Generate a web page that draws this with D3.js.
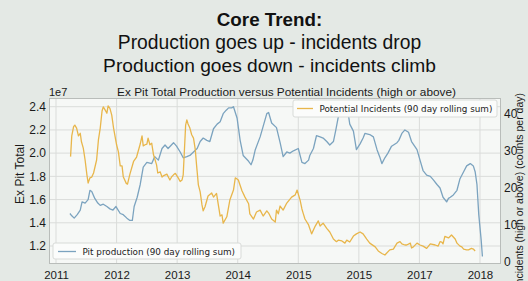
<!DOCTYPE html>
<html><head><meta charset="utf-8">
<script src="https://cdn.jsdelivr.net/npm/d3@7"></script>
<style>body{margin:0;background:#e4e9e5;}svg{display:block}</style>
</head><body><svg id="c" width="528" height="281"></svg>
<script>
const headline = ["Core Trend:", "Production goes up - incidents drop", "Production goes down - incidents climb"];
const chartTitle = "Ex Pit Total Production versus Potential Incidents (high or above)";
const leftLabel = "Ex Pit Total";
const rightLabel = "Potential incidents (high or above) (counts per day)";
const offsetLabel = "1e7";
const prodLegend = "Pit production (90 day rolling sum)";
const incLegend = "Potential Incidents (90 day rolling sum)";
const xTickValues = [2011, 2012, 2013, 2014, 2015, 2016, 2017, 2018];
const xTickLabels = ["2011", "2012", "2013", "2014", "2015", "2015", "2017", "2018"];
const leftTicks = [1.2, 1.4, 1.6, 1.8, 2.0, 2.2, 2.4];
const rightTicks = [0, 10, 20, 30, 40];

// Pit production, 90 day rolling sum (units of 1e7)
const prodYears = [2011.23,2011.26,2011.30,2011.35,2011.40,2011.43,2011.48,2011.53,2011.56,2011.59,2011.64,2011.69,2011.73,2011.78,2011.84,2011.89,2011.94,2011.99,
2012.06,2012.11,2012.17,2012.22,2012.26,2012.29,2012.34,2012.39,2012.44,2012.50,2012.58,2012.63,2012.69,2012.75,2012.80,2012.85,2012.94,2012.99,
2013.05,2013.10,2013.16,2013.21,2013.27,2013.33,2013.38,2013.43,2013.49,2013.54,2013.60,2013.66,2013.71,2013.76,2013.81,2013.85,2013.90,2013.93,2013.96,2013.99,
2014.04,2014.09,2014.18,2014.22,2014.25,2014.29,2014.37,2014.42,2014.48,2014.51,2014.56,2014.64,2014.70,2014.75,2014.81,2014.86,2014.92,2015.00,
2015.06,2015.11,2015.17,2015.19,2015.25,2015.30,2015.36,2015.41,2015.47,2015.52,2015.58,2015.62,2015.66,2015.72,2015.77,2015.83,2015.85,2015.91,2015.96,
2016.02,2016.07,2016.10,2016.18,2016.24,2016.30,2016.35,2016.38,2016.43,2016.48,2016.54,2016.63,2016.66,2016.71,2016.76,2016.82,2016.87,2016.96,
2017.01,2017.06,2017.12,2017.18,2017.23,2017.29,2017.34,2017.39,2017.45,2017.48,2017.51,2017.56,2017.62,2017.67,2017.73,2017.78,2017.84,2017.89,2017.92,2017.95,2017.98,2018.02,2018.04];
const prodValues = [1.48,1.46,1.44,1.47,1.51,1.58,1.57,1.60,1.68,1.67,1.61,1.57,1.55,1.56,1.54,1.52,1.51,1.54,
1.48,1.47,1.44,1.42,1.42,1.54,1.62,1.73,1.88,1.92,1.91,1.97,1.94,2.04,2.07,2.04,2.09,2.06,
2.01,1.96,1.97,1.98,2.01,2.04,2.10,2.13,2.11,2.10,2.21,2.25,2.27,2.34,2.37,2.39,2.39,2.40,2.35,2.30,
2.11,1.98,1.93,1.90,1.94,2.03,2.14,2.23,2.34,2.35,2.26,2.22,2.09,1.97,2.01,2.00,2.02,2.04,
1.92,1.91,1.94,1.98,2.04,2.15,2.14,2.13,2.10,2.07,2.10,2.20,2.31,2.39,2.35,2.32,2.25,2.19,2.03,
2.08,2.13,2.17,2.16,2.14,2.03,1.96,1.91,1.96,2.00,2.06,2.09,2.11,2.17,2.20,2.18,2.10,2.03,
1.94,1.85,1.81,1.80,1.77,1.73,1.70,1.62,1.58,1.61,1.62,1.64,1.68,1.78,1.84,1.89,1.91,1.89,1.84,1.73,1.47,1.25,1.11];

// Potential incidents, 90 day rolling sum (counts)
const incYears = [2011.24,2011.26,2011.29,2011.31,2011.34,2011.37,2011.40,2011.42,2011.45,2011.48,2011.51,2011.53,2011.56,2011.59,2011.62,2011.67,2011.70,2011.73,2011.76,2011.78,2011.81,2011.84,2011.86,2011.89,2011.92,2011.95,
2012.00,2012.03,2012.06,2012.09,2012.11,2012.16,2012.18,2012.22,2012.28,2012.33,2012.39,2012.42,2012.44,2012.47,2012.50,2012.52,2012.55,2012.58,2012.61,2012.66,2012.68,2012.72,2012.75,2012.77,2012.83,2012.88,2012.91,2012.94,2012.97,
2013.02,2013.05,2013.08,2013.10,2013.12,2013.14,2013.16,2013.18,2013.21,2013.24,2013.27,2013.30,2013.32,2013.35,2013.38,2013.41,2013.43,2013.46,2013.51,2013.57,2013.60,2013.63,2013.65,2013.68,2013.71,2013.74,2013.76,2013.82,2013.87,2013.93,2013.96,
2014.01,2014.07,2014.12,2014.18,2014.20,2014.26,2014.31,2014.37,2014.42,2014.48,2014.51,2014.56,2014.62,2014.64,2014.67,2014.70,2014.75,2014.81,2014.89,2014.95,2014.98,
2015.03,2015.06,2015.08,2015.11,2015.17,2015.22,2015.28,2015.33,2015.36,2015.41,2015.47,2015.52,2015.58,2015.63,2015.66,2015.72,2015.77,2015.80,2015.85,2015.91,2015.96,
2016.02,2016.07,2016.13,2016.18,2016.27,2016.32,2016.38,2016.43,2016.51,2016.57,2016.63,2016.68,2016.71,2016.76,2016.79,2016.85,2016.87,2016.90,2016.96,
2017.01,2017.06,2017.12,2017.18,2017.26,2017.31,2017.34,2017.37,2017.39,2017.42,2017.48,2017.53,2017.59,2017.62,2017.67,2017.70,2017.73,2017.78,2017.81,2017.86,2017.89,2017.92];
const incValues = [28.3,33.9,36.4,36.8,36.0,33.9,34.6,32.3,30.6,27.4,23.4,21.2,22.6,22.8,23.9,27.4,32.8,36.0,40.6,41.7,40.9,40.0,42.0,41.3,39.5,36.0,
31.5,29.6,25.8,25.8,22.9,21.1,20.9,23.6,27.0,28.2,31.7,33.9,31.2,31.5,31.7,33.3,31.5,31.9,28.8,26.1,23.9,24.2,22.8,23.1,23.6,22.0,22.9,23.4,23.8,
22.5,21.6,22.0,23.4,30.1,36.8,38.2,37.1,36.0,34.2,33.3,30.1,26.1,20.7,18.8,15.3,13.7,14.8,17.7,18.5,17.4,18.0,18.4,15.3,12.3,12.6,10.4,12.1,16.6,19.3,22.6,
22.0,19.1,17.4,15.6,12.9,11.5,13.4,13.9,12.3,13.7,13.1,11.5,10.7,13.9,12.9,15.0,13.9,15.8,17.4,18.0,19.3,
16.6,14.2,13.1,11.5,9.9,7.5,9.6,11.0,9.6,10.4,9.0,8.0,6.1,5.4,5.8,5.6,5.0,5.8,5.3,6.9,7.5,
8.0,7.5,6.1,5.0,4.0,2.9,2.2,1.8,3.2,3.4,5.0,5.4,4.8,4.5,4.5,5.0,3.7,4.0,5.0,
4.5,4.2,3.6,4.8,4.5,4.2,5.4,5.3,4.8,6.8,6.4,7.2,6.1,5.0,4.2,4.0,3.4,3.2,3.2,3.6,3.4,2.9];

const svg = d3.select("#c");
const W = 528, H = 281;
const plot = {left: 49, right: 501, top: 98, bottom: 264};

const x = d3.scaleLinear().domain([2010.884, 2018.347]).range([plot.left, plot.right]);
const yL = d3.scaleLinear().domain([1.045, 2.475]).range([plot.bottom, plot.top]);
const yR = d3.scaleLinear().domain([-0.62, 44.1]).range([plot.bottom, plot.top]);

svg.append("rect").attr("width", W).attr("height", H).attr("fill", "#e4e9e5");

// headline
const hl = svg.append("g").attr("font-family", "'Liberation Sans', Arial, sans-serif").attr("fill", "#111").attr("text-anchor", "middle");
hl.append("text").attr("x", 269.5).attr("y", 26).attr("font-size", 18.8).attr("font-weight", "bold").text(headline[0]);
hl.append("text").attr("x", 269.5).attr("y", 49).attr("font-size", 19.3).text(headline[1]);
hl.append("text").attr("x", 269.5).attr("y", 72).attr("font-size", 19.2).text(headline[2]);

// plot background
svg.append("rect").attr("x", plot.left).attr("y", plot.top)
  .attr("width", plot.right - plot.left).attr("height", plot.bottom - plot.top)
  .attr("fill", "#f6f8f6");

// grid
const grid = svg.append("g").attr("stroke", "#dadcda").attr("stroke-width", 1);
grid.selectAll("line.v").data(xTickValues).join("line")
  .attr("x1", d => x(d)).attr("x2", d => x(d)).attr("y1", plot.top).attr("y2", plot.bottom);
grid.selectAll("line.h").data(leftTicks).join("line")
  .attr("y1", d => yL(d)).attr("y2", d => yL(d)).attr("x1", plot.left).attr("x2", plot.right);

// frame
svg.append("rect").attr("x", plot.left + 0.5).attr("y", plot.top + 0.5)
  .attr("width", plot.right - plot.left - 1).attr("height", plot.bottom - plot.top - 1)
  .attr("fill", "none").attr("stroke", "#b9bdba");

// axes
const font = "'Liberation Sans', Arial, sans-serif";
const axB = svg.append("g").attr("transform", `translate(0,${plot.bottom})`)
  .call(d3.axisBottom(x).tickValues(xTickValues).tickSize(0).tickPadding(7)
    .tickFormat((d, i) => xTickLabels[i]));
const axL = svg.append("g").attr("transform", `translate(${plot.left},0)`)
  .call(d3.axisLeft(yL).tickValues(leftTicks).tickSize(0).tickPadding(3).tickFormat(d3.format(".1f")));
const axR = svg.append("g").attr("transform", `translate(${plot.right},0)`)
  .call(d3.axisRight(yR).tickValues(rightTicks).tickSize(0).tickPadding(3).tickFormat(d3.format("d")));
[axB, axL, axR].forEach(a => {
  a.select(".domain").remove();
  a.selectAll("text").attr("font-family", font).attr("font-size", 12).attr("fill", "#1a1a1a");
});
axB.selectAll("text").attr("font-size", 11.5);

// lines
const prodData = prodYears.map((t, i) => [t, prodValues[i]]);
const incData = incYears.map((t, i) => [t, incValues[i]]);
svg.append("path").datum(prodData)
  .attr("fill", "none").attr("stroke", "#7ba3bf").attr("stroke-width", 1.3).attr("stroke-linejoin", "round")
  .attr("d", d3.line().x(d => x(d[0])).y(d => yL(d[1])));

// lower-left legend (primary axis)
const lg1 = svg.append("g");
lg1.append("rect").attr("x", 53).attr("y", 243).attr("width", 188).attr("height", 16).attr("rx", 2)
  .attr("fill", "#fbfcfb").attr("stroke", "#d8dbd8");
lg1.append("line").attr("x1", 58).attr("x2", 76).attr("y1", 251.5).attr("y2", 251.5).attr("stroke", "#7ba3bf").attr("stroke-width", 1.3);
lg1.append("text").attr("x", 82.5).attr("y", 254.5).attr("font-family", "'DejaVu Sans', sans-serif").attr("font-size", 8.8).attr("fill", "#222").text(prodLegend);

svg.append("path").datum(incData)
  .attr("fill", "none").attr("stroke", "#e8b64b").attr("stroke-width", 1.3).attr("stroke-linejoin", "round")
  .attr("d", d3.line().x(d => x(d[0])).y(d => yR(d[1])));

// upper-right legend (secondary axis)
const lg2 = svg.append("g");
lg2.append("rect").attr("x", 293).attr("y", 100).attr("width", 204).attr("height", 17).attr("rx", 2)
  .attr("fill", "#fbfcfb").attr("stroke", "#d8dbd8");
lg2.append("line").attr("x1", 297).attr("x2", 313).attr("y1", 108.5).attr("y2", 108.5).attr("stroke", "#e8b64b").attr("stroke-width", 1.3);
lg2.append("text").attr("x", 319.5).attr("y", 111.5).attr("font-family", "'DejaVu Sans', sans-serif").attr("font-size", 8.8).attr("fill", "#222").text(incLegend);

// chart title and labels
svg.append("text").attr("x", 286.5).attr("y", 95.5).attr("text-anchor", "middle")
  .attr("font-family", font).attr("font-size", 11.8).attr("fill", "#1a1a1a").text(chartTitle);
svg.append("text").attr("x", 49).attr("y", 95.5).attr("font-family", font).attr("font-size", 11).attr("fill", "#1a1a1a").text(offsetLabel);
svg.append("text").attr("transform", "translate(20,174) rotate(-90)").attr("text-anchor", "middle")
  .attr("dy", "0.35em").attr("font-family", font).attr("font-size", 12).attr("fill", "#1a1a1a").text(leftLabel);
svg.append("text").attr("transform", "translate(519,93) rotate(-90)").attr("text-anchor", "end")
  .attr("dy", "0.35em").attr("font-family", font).attr("font-size", 10.5).attr("fill", "#1a1a1a").text(rightLabel);
</script></body></html>
